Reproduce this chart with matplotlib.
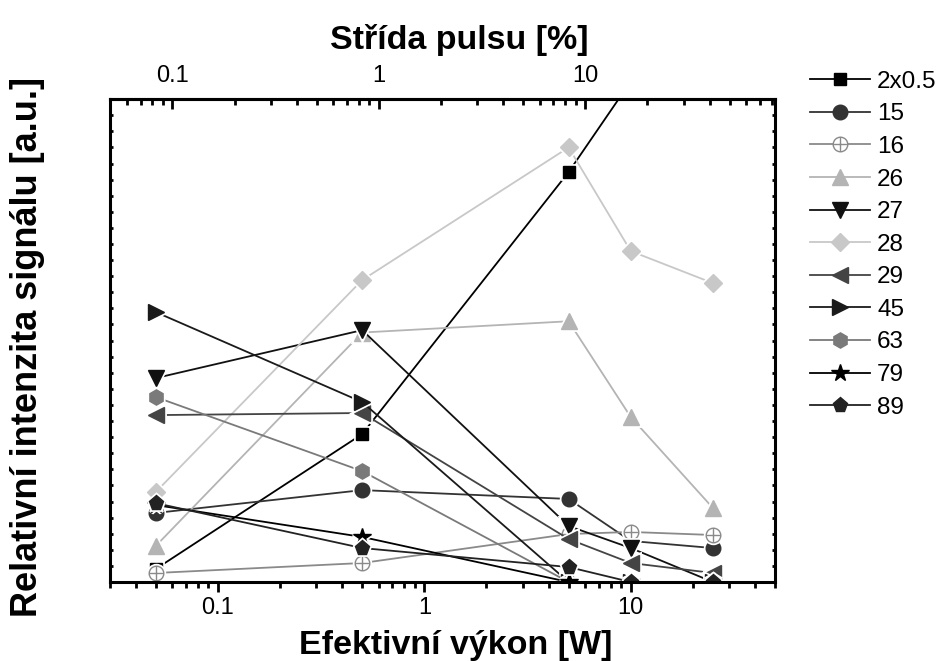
import numpy as np
import matplotlib
matplotlib.use('Agg')
import matplotlib.pyplot as plt
from matplotlib.path import Path
from matplotlib.lines import Line2D
from matplotlib.ticker import MultipleLocator, FuncFormatter, NullLocator

plt.rcParams['font.family'] = ['Liberation Sans', 'DejaVu Sans']

# effective power [W]
power = [0.05, 0.5, 5, 10, 25]
power_2x = [0.05, 0.5, 5, 10]

# relative signal intensity [a.u.] per sample
s_2x05 = [0.81, 9.19, 25.47, 31.1]
s_15 = [4.29, 5.71, 5.16, 2.55, 2.11]
s_16 = [0.56, 1.18, 2.98, 3.11, 2.92]
s_26 = [2.24, 15.5, 16.2, 10.25, 4.6]
s_27 = [12.67, 15.65, 3.48, 2.11, 0.0]
s_28 = [5.59, 18.76, 27.0, 20.56, 18.57]
s_29 = [10.37, 10.5, 2.67, 1.18, 0.56]
s_45 = [16.77, 11.18, 0.0, 0.0, 0.0]
s_63 = [11.49, 6.89, 0.0, 0.0, 0.0]
s_79 = [4.78, 2.8, 0.0, 0.0, 0.0]
s_89 = [4.9, 2.11, 0.93, 0.0, 0.0]

labels = ['2x0.5', '15', '16', '26', '27', '28', '29', '45', '63', '79', '89']

# duty cycle [%] = power * factor
duty_factor = 1.66
top_ticks = [0.1, 1, 10]

# circle with a cross inside
circ = Path.unit_circle()
cross = Path([(-1, 0), (1, 0), (0, -1), (0, 1)],
             [Path.MOVETO, Path.LINETO, Path.MOVETO, Path.LINETO])
oplus = Path.make_compound_path(circ, cross)

series = [
    (power_2x, s_2x05, 's', '#000000', '#000000', '#000000', 9),
    (power, s_15, 'o', '#333333', '#333333', '#333333', 10.5),
    (power, s_16, oplus, '#8a8a8a', 'white', '#8a8a8a', 10.5),
    (power, s_26, '^', '#b4b4b4', '#b4b4b4', '#b4b4b4', 12),
    (power, s_27, 'v', '#111111', '#111111', '#111111', 12),
    (power, s_28, 'D', '#c8c8c8', '#c8c8c8', '#c8c8c8', 9),
    (power, s_29, '<', '#444444', '#444444', '#444444', 12),
    (power, s_45, '>', '#1a1a1a', '#1a1a1a', '#1a1a1a', 12),
    (power, s_63, 'h', '#7a7a7a', '#7a7a7a', '#7a7a7a', 11),
    (power, s_79, '*', '#000000', '#000000', '#000000', 13),
    (power, s_89, 'p', '#222222', '#222222', '#222222', 11),
]

fig = plt.figure(figsize=(9.4, 6.61), dpi=100)
ax = fig.add_axes([0.117, 0.1195, 0.7075, 0.7305])

handles = []
for i, (x, y, m, lc, fc, ec, ms) in enumerate(series):
    z = 2 + i * 0.5
    ax.plot(x, y, '-', color=lc, lw=1.3, zorder=z)
    # white halo leaves a small gap between line and marker
    ax.plot(x, y, ls='none', marker=m, ms=ms, mfc='white', mec='white', mew=3.5, zorder=z + 0.1)
    ax.plot(x, y, ls='none', marker=m, ms=ms, mfc=fc, mec=ec, mew=1.0, zorder=z + 0.2)
    handles.append(Line2D([], [], color=lc, lw=1.3, marker=m, ms=ms, mfc=fc, mec=ec, mew=1.0))

ax.set_xscale('log')
ax.set_xlim(0.03, 50)
ax.set_ylim(0, 30)

for sp in ax.spines.values():
    sp.set_linewidth(2.2)
    sp.set_zorder(20)

fmt = FuncFormatter(lambda v, p: f'{v:g}')
ax.xaxis.set_major_formatter(fmt)
ax.tick_params(axis='x', which='major', direction='out', length=7, width=2,
               labelsize=17, pad=4, top=False)
ax.tick_params(axis='x', which='minor', direction='out', length=4.5, width=2, top=False)

ax.yaxis.set_major_locator(MultipleLocator(1))
ax.yaxis.set_minor_locator(NullLocator())
ax.tick_params(axis='y', which='major', direction='in', length=2.5, width=2,
               left=True, right=True, labelleft=False)

ax.set_xlabel('Efektivní výkon [W]', fontsize=24.5, fontweight='bold')
ax.xaxis.set_label_coords(0.52, -0.0995)
ax.set_ylabel('Relativní intenzita signálu [a.u.]', fontsize=26, fontweight='bold')
ax.yaxis.set_label_coords(-0.097, 0.486)

sec = ax.secondary_xaxis('top', functions=(lambda v: v * duty_factor, lambda v: v / duty_factor))
sec.set_xticks(top_ticks)
sec.xaxis.set_major_formatter(fmt)
sec.tick_params(axis='x', which='major', direction='in', length=7, width=2, labelsize=17, pad=9)
sec.tick_params(axis='x', which='minor', direction='in', length=4.5, width=2)
sec.spines['top'].set_linewidth(2.2)
sec.set_xlabel('Střída pulsu [%]', fontsize=24.5, fontweight='bold')
sec.xaxis.set_label_coords(0.525, 1.1035, transform=ax.transAxes)

fig.legend(handles, labels, loc='upper left', bbox_to_anchor=(0.8617, 0.893),
           frameon=False, fontsize=17.5, handlelength=2.47, handletextpad=0.29,
           labelspacing=0.435, borderpad=0, borderaxespad=0)

fig.savefig('out.png', dpi=100)
